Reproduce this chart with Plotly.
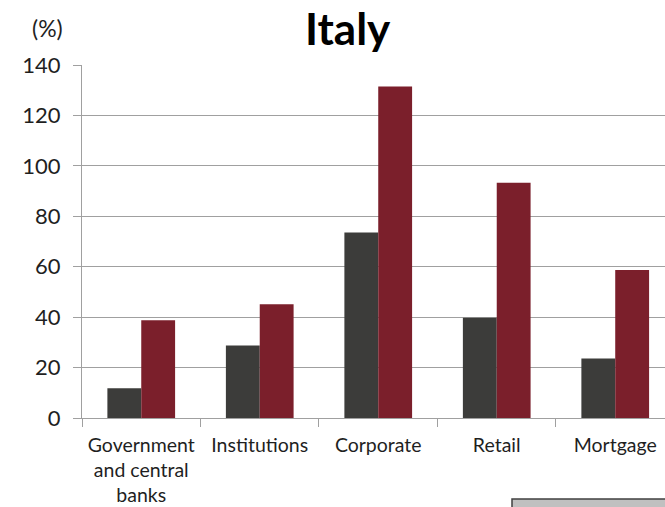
import plotly.graph_objects as go

# Exposure categories and the two series (percent)
categories = ["Government<br>and central<br>banks", "Institutions", "Corporate", "Retail", "Mortgage"]
series_1 = [11.8, 28.8, 73.6, 39.8, 23.6]
series_2 = [38.8, 45.1, 131.5, 93.3, 58.7]
y_ticks = [0, 20, 40, 60, 80, 100, 120, 140]

FONT = "Lato"
TEXT = "#1f1f1f"
GRID = "#a0a0a0"

fig = go.Figure()
fig.add_trace(go.Bar(x=categories, y=series_1, name="Series 1",
                     marker=dict(color="#3c3c3a", line=dict(width=0))))
fig.add_trace(go.Bar(x=categories, y=series_2, name="Series 2",
                     marker=dict(color="#7b1f2b", line=dict(width=0))))

fig.update_layout(
    width=665, height=507,
    margin=dict(l=82, r=0, t=65, b=89),
    paper_bgcolor="white", plot_bgcolor="white",
    barmode="group", bargap=0.4286, bargroupgap=0,
    showlegend=False,
    font=dict(family=FONT, color=TEXT),
)

fig.update_xaxes(
    type="category",
    range=[-0.5, 4.42],
    showline=True, linecolor=GRID, linewidth=1.3,
    ticks="outside", tickson="boundaries", ticklen=8, tickcolor=GRID, tickwidth=1.3,
    tickfont=dict(family=FONT, size=19.5, color=TEXT),
    showgrid=False,
    ticklabelstandoff=9,
)
fig.update_yaxes(
    range=[0, 140], tickvals=y_ticks,
    showline=True, linecolor=GRID, linewidth=1.3,
    ticks="outside", ticklen=8, tickcolor=GRID, tickwidth=1.3,
    tickfont=dict(family=FONT, size=22, color=TEXT),
    showgrid=True, gridcolor=GRID, gridwidth=1.3,
    zeroline=False,
    ticklabelstandoff=8,
)

# Title and unit label
fig.add_annotation(text="<b>Italy</b>", xref="paper", yref="paper",
                   x=(348 - 82) / 583, y=1 + (65 - 28) / 353,
                   showarrow=False, xanchor="center", yanchor="middle",
                   font=dict(family=FONT, size=44, color="#000000"))
fig.add_annotation(text="(%)", xref="paper", yref="paper",
                   x=(47 - 82) / 583, y=1 + (65 - 28) / 353,
                   showarrow=False, xanchor="center", yanchor="middle",
                   font=dict(family=FONT, size=23, color=TEXT))

# Legend box edge at bottom-right
fig.add_shape(type="rect", xref="paper", yref="paper",
              x0=(512 - 82) / 583, x1=1.05,
              y0=-(507 - 418 + 10) / 353, y1=-(499 - 418) / 353,
              fillcolor="#c0c0c0", line=dict(color="#404040", width=1.5))

fig.write_html("out.html")
